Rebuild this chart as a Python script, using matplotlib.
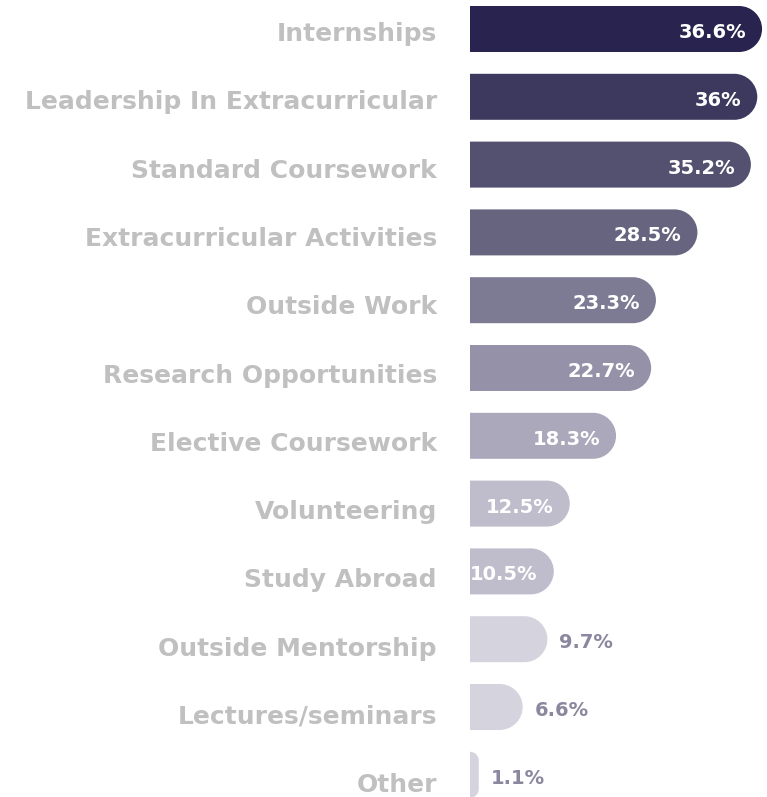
import matplotlib.pyplot as plt
from matplotlib.path import Path
from matplotlib.patches import PathPatch

categories = [
    "Internships", "Leadership In Extracurricular", "Standard Coursework",
    "Extracurricular Activities", "Outside Work", "Research Opportunities",
    "Elective Coursework", "Volunteering", "Study Abroad",
    "Outside Mentorship", "Lectures/seminars", "Other",
]
values = [36.6, 36.0, 35.2, 28.5, 23.3, 22.7, 18.3, 12.5, 10.5, 9.7, 6.6, 1.1]
value_labels = ["36.6%", "36%", "35.2%", "28.5%", "23.3%", "22.7%", "18.3%",
                "12.5%", "10.5%", "9.7%", "6.6%", "1.1%"]
colors = ["#29244f", "#3d395e", "#535070", "#67647f", "#7d7a94", "#9491a8",
          "#aaa8ba", "#bfbdcc", "#bfbdcc", "#d5d4de", "#d5d4de", "#d5d4de"]

W, H = 767, 797
PX_PER_PCT = 7.98   # pixels per percent
ROW = 67.8          # pixels per row (bars)
LROW = 68.3         # pixels per row (category labels)
BAR_H = 46.0        # bar height in pixels

plt.rcParams['font.family'] = ['DejaVu Sans']

fig = plt.figure(figsize=(W / 100, H / 100), dpi=100)
x0 = 470
ax = fig.add_axes([x0 / W, 0, (W - x0) / W, 1])
ax.set_xlim(0, (W - x0) / PX_PER_PCT)
ax.set_ylim(H, 0)   # y in pixels from the top
ax.axis("off")

K = 0.5523


def right_rounded_bar(yc, w, h, rx, ry):
    # bar with square left side and rounded right corners (data units)
    y0, y1 = yc - h / 2, yc + h / 2
    verts = [(0, y0), (w - rx, y0),
             (w - rx + K * rx, y0), (w, y0 + ry - K * ry), (w, y0 + ry),
             (w, y1 - ry),
             (w, y1 - ry + K * ry), (w - rx + K * rx, y1), (w - rx, y1),
             (0, y1), (0, y0)]
    codes = [Path.MOVETO, Path.LINETO,
             Path.CURVE4, Path.CURVE4, Path.CURVE4,
             Path.LINETO,
             Path.CURVE4, Path.CURVE4, Path.CURVE4,
             Path.LINETO, Path.CLOSEPOLY]
    return Path(verts, codes)


for i, (cat, v, lab, c) in enumerate(zip(categories, values, value_labels, colors)):
    yc = 29 + i * ROW
    r_px = min(BAR_H / 2, v * PX_PER_PCT)
    rx = r_px / PX_PER_PCT
    ax.add_patch(PathPatch(right_rounded_bar(yc, v, BAR_H, rx, r_px),
                           facecolor=c, edgecolor="none"))
    # category label, left of the bars
    ax.text(-33 / PX_PER_PCT, 41 + i * LROW, cat, ha="right", va="baseline",
            fontsize=18, fontweight="bold", color="#c0c0c0", clip_on=False)
    if v >= 10:
        ax.text(v - 16 / PX_PER_PCT, yc + 9, lab, ha="right", va="baseline",
                fontsize=14, fontweight="bold", color="white")
    else:
        ax.text(v + 12 / PX_PER_PCT, yc + 9, lab, ha="left", va="baseline",
                fontsize=14, fontweight="bold", color="#8a879e")

fig.savefig("out.png", dpi=100)
